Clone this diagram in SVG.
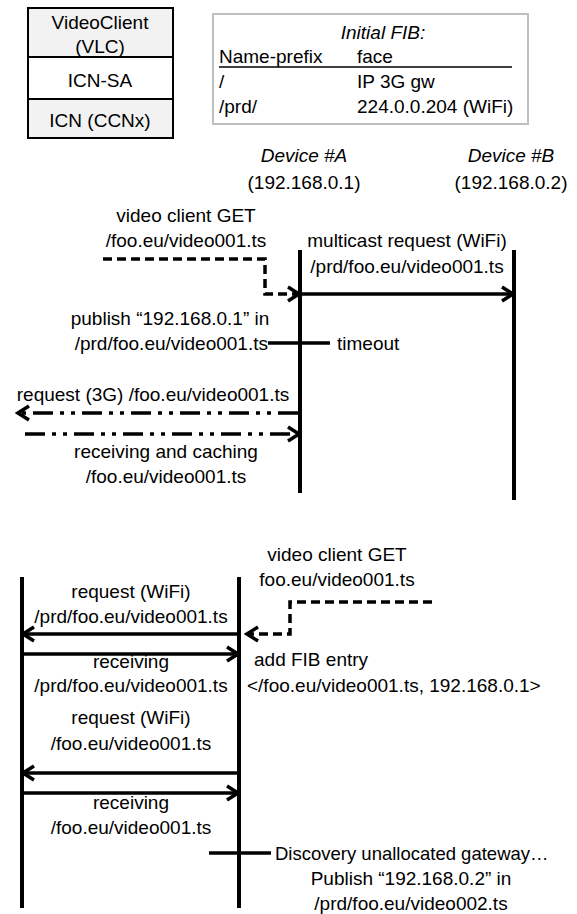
<svg xmlns="http://www.w3.org/2000/svg" width="577" height="914" viewBox="0 0 577 914">
<style>
text{font-family:"Liberation Sans",Arial,sans-serif;font-size:19px;fill:#000}
.c{text-anchor:middle}
.e{text-anchor:end}
.i{font-style:italic}
.life{stroke:#000;stroke-width:4;fill:none}
.arr{stroke:#000;stroke-width:3.5;fill:none;marker-end:url(#head)}
.dashA{stroke:#000;stroke-width:3.5;fill:none;stroke-dasharray:9 5;marker-end:url(#head)}
.dd{stroke:#000;stroke-width:3.5;fill:none;stroke-dasharray:20 7 4 7 4 7;marker-end:url(#head)}
.tick{stroke:#000;stroke-width:3.5;fill:none}
</style>
<defs>
<marker id="head" markerUnits="userSpaceOnUse" viewBox="-15 -10 18 20" refX="0" refY="0" markerWidth="18" markerHeight="20" orient="auto">
<path d="M-11,-7 L0,0 L-11,7" fill="none" stroke="#000" stroke-width="3.5"/>
</marker>
</defs>

<g id="legend">
<rect x="28" y="8" width="145" height="49" fill="#f2f2f2" stroke="#000" stroke-width="2"/>
<rect x="28" y="57" width="145" height="42" fill="#fff" stroke="#000" stroke-width="2"/>
<rect x="28" y="99" width="145" height="39" fill="#f2f2f2" stroke="#000" stroke-width="2"/>
<text class="c" x="100" y="29">VideoClient</text>
<text class="c" x="100" y="53">(VLC)</text>
<text class="c" x="100" y="87">ICN-SA</text>
<text class="c" x="100" y="127">ICN (CCNx)</text>
</g>

<g id="fib">
<rect x="213" y="14" width="315" height="110" fill="#fff" stroke="#bfbfbf" stroke-width="2"/>
<text class="c i" x="383" y="39">Initial FIB:</text>
<text x="219" y="63">Name-prefix</text>
<text x="357" y="63">face</text>
<line x1="219" y1="67" x2="512" y2="67" stroke="#000" stroke-width="1.5"/>
<text x="219" y="88">/</text>
<text x="357" y="88">IP 3G gw</text>
<text x="219" y="113">/prd/</text>
<text x="357" y="113">224.0.0.204 (WiFi)</text>
</g>

<g id="deviceA">
<text class="c i" x="304" y="162">Device #A</text>
<text class="c" x="304" y="189">(192.168.0.1)</text>
<line class="life" x1="300" y1="250" x2="300" y2="493"/>
</g>
<g id="deviceB">
<text class="c i" x="511" y="162">Device #B</text>
<text class="c" x="511" y="189">(192.168.0.2)</text>
<line class="life" x1="514" y1="250" x2="514" y2="500"/>
</g>

<g id="deviceA2">
<line class="life" x1="239" y1="577" x2="239" y2="908"/>
</g>
<g id="deviceB2">
<line class="life" x1="22" y1="577" x2="22" y2="908"/>
</g>

<g id="connectors">
<path class="dashA" d="M103,259 H265 V294 H299"/>
<line class="arr" x1="300" y1="294" x2="513" y2="294"/>
<line class="tick" x1="268" y1="343" x2="330" y2="343"/>
<line class="dd" x1="298" y1="413" x2="18" y2="413"/>
<line class="dd" x1="25" y1="434" x2="299" y2="434"/>

<path class="dashA" d="M432,602 H290 V634 H247"/>
<line class="arr" x1="239" y1="634" x2="23" y2="634"/>
<line class="arr" x1="22" y1="654" x2="238" y2="654"/>
<line class="arr" x1="239" y1="773" x2="23" y2="773"/>
<line class="arr" x1="22" y1="793" x2="238" y2="793"/>
<line class="tick" x1="209" y1="853" x2="271" y2="853"/>
</g>

<g id="labels">
<text class="c" x="186" y="222">video client GET</text>
<text class="c" x="186" y="247">/foo.eu/video001.ts</text>
<text class="c" x="407" y="247">multicast request (WiFi)</text>
<text class="c" x="407" y="273">/prd/foo.eu/video001.ts</text>
<text class="c" x="170" y="325">publish “192.168.0.1” in</text>
<text class="e" x="268" y="350">/prd/foo.eu/video001.ts</text>
<text x="337" y="350">timeout</text>
<text class="c" x="153" y="401">request (3G) /foo.eu/video001.ts</text>
<text class="c" x="166" y="458">receiving and caching</text>
<text class="c" x="166" y="483">/foo.eu/video001.ts</text>

<text class="c" x="337" y="561">video client GET</text>
<text class="c" x="337" y="586">foo.eu/video001.ts</text>
<text class="c" x="131" y="598">request (WiFi)</text>
<text class="c" x="131" y="623">/prd/foo.eu/video001.ts</text>
<text x="254" y="666">add FIB entry</text>
<text class="c" x="131" y="668">receiving</text>
<text class="c" x="131" y="692">/prd/foo.eu/video001.ts</text>
<text x="247" y="692">&lt;/foo.eu/video001.ts, 192.168.0.1&gt;</text>
<text class="c" x="131" y="724">request (WiFi)</text>
<text class="c" x="131" y="750">/foo.eu/video001.ts</text>
<text class="c" x="131" y="809">receiving</text>
<text class="c" x="131" y="834">/foo.eu/video001.ts</text>
<text x="275" y="860" style="font-size:18.5px">Discovery unallocated gateway…</text>
<text class="c" x="411" y="885">Publish “192.168.0.2” in</text>
<text class="c" x="411" y="910">/prd/foo.eu/video002.ts</text>
</g>
</svg>
